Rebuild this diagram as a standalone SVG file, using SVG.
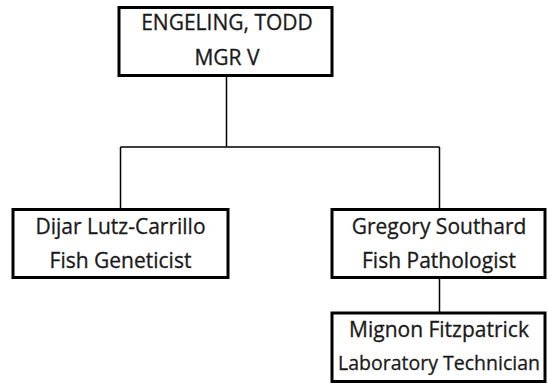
<svg xmlns="http://www.w3.org/2000/svg" width="548" height="385" viewBox="0 0 548 385">
  <style>
    .box { fill: #ffffff; stroke: #000000; stroke-width: 3; }
    .link { fill: none; stroke: #000000; stroke-width: 1.5; }
    .t { font-family: "Open Sans", "Liberation Sans", sans-serif; font-size: 21px; fill: #1a1a1a; stroke: #1a1a1a; stroke-width: 0.3; text-anchor: middle; }
    .small { font-size: 19.5px; }
  </style>
  <rect width="548" height="385" fill="#ffffff"/>
  <g id="connectors">
    <path class="link" d="M226.5 76 V147 M120.5 147 H439.5 M120.5 147 V209 M439.5 147 V209 M439.5 278 V313"/>
  </g>
  <g id="node-engeling">
    <rect class="box" x="119" y="7.5" width="213" height="68"/>
    <text class="t" x="227" y="30">ENGELING, TODD</text>
    <text class="t" x="227" y="65">MGR V</text>
  </g>
  <g id="node-lutz-carrillo">
    <rect class="box" x="13" y="209.5" width="215" height="68"/>
    <text class="t" x="120.5" y="234">Dijar Lutz-Carrillo</text>
    <text class="t" x="120.5" y="268">Fish Geneticist</text>
  </g>
  <g id="node-southard">
    <rect class="box" x="332" y="209.5" width="213" height="68"/>
    <text class="t" x="439" y="234">Gregory Southard</text>
    <text class="t" x="439" y="268">Fish Pathologist</text>
  </g>
  <g id="node-fitzpatrick">
    <rect class="box" x="332" y="313" width="213" height="68.5"/>
    <text class="t" x="439" y="337">Mignon Fitzpatrick</text>
    <text class="t small" x="439" y="370">Laboratory Technician</text>
  </g>
</svg>
